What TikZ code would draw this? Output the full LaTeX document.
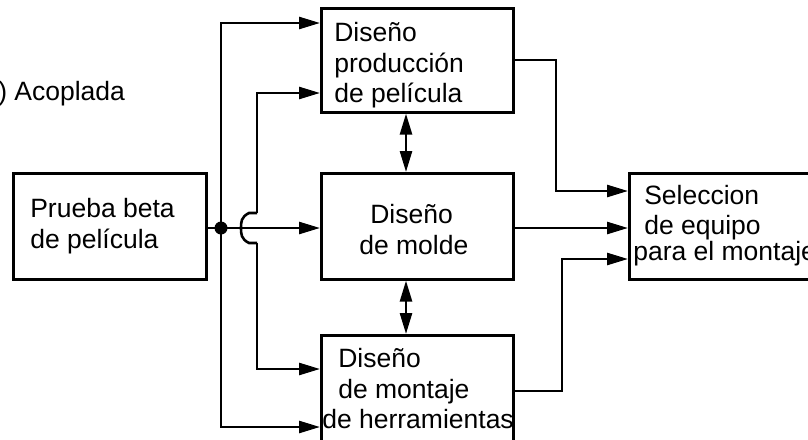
\documentclass[tikz,border=0pt]{standalone}
\usepackage{fontspec}
\setmainfont{Liberation Sans}
\usetikzlibrary{arrows.meta}
\begin{document}
\begin{tikzpicture}[x=1pt,y=-1pt,
  line width=2.6pt,
  box/.style={draw, rectangle, inner sep=0pt, anchor=north west},
  lbl/.style={anchor=base west, inner sep=0pt, font=\fontsize{26.5}{31}\selectfont},
  arr/.style={-{Triangle[length=21pt,width=12pt]}},
  darr/.style={{Triangle[length=21pt,width=12pt]}-{Triangle[length=21pt,width=12pt]}}]
\useasboundingbox (0,0) rectangle (808,439);
% boxes
\node[box, minimum width=193pt, minimum height=106pt] (prueba) at (12,172) {};
\node[box, minimum width=192pt, minimum height=104pt] (prod) at (320,7) {};
\node[box, minimum width=192pt, minimum height=106pt] (molde) at (320,172) {};
\node[box, minimum width=192pt, minimum height=110pt] (mont) at (320,334) {};
\node[box, minimum width=210pt, minimum height=106pt] (sel) at (628,172) {};
% texts
\node[lbl] (acop) at (-3,100) {) Acoplada};
\node[lbl] (t1a) at (29,217) {Prueba beta};
\node[lbl] (t1b) at (29,248) {de película};
\node[lbl] (t2a) at (333,41) {Diseño};
\node[lbl] (t2b) at (333,72) {producción};
\node[lbl] (t2c) at (333,102) {de película};
\node[lbl] (t3a) at (369,223) {Diseño};
\node[lbl] (t3b) at (358,254) {de molde};
\node[lbl] (t4a) at (337,367) {Diseño};
\node[lbl] (t4b) at (337,398) {de montaje};
\node[lbl] (t4c) at (321,428) {de herramientas};
\node[lbl] (t5a) at (643,204) {Seleccion};
\node[lbl] (t5b) at (643,234) {de equipo};
\node[lbl] (t5c) at (632,260) {para el montaje};
% junction
\coordinate (j) at (221,228);
\coordinate (jt) at (221,23);
\coordinate (jb) at (221,427);
\coordinate (k1) at (257,93);
\coordinate (k2) at (257,213);
\coordinate (k3) at (257,243);
\coordinate (k4) at (257,369);
\draw (prueba.east |- j) -- (j);
\draw[arr] (j) -- (molde.west |- j);
\draw[arr] (jb) -- (jt) -- (prod.west |- jt);
\draw[arr] (j) -- (jb) -- (mont.west |- jb);
\fill (j) circle (6.5pt);
% jumper line
\draw[arr] (k2) -- (k1) -- (prod.west |- k1);
\draw (k2) -- (249,213) .. controls (241,217) and (241,222) .. (241,228)
  .. controls (241,234) and (241,239) .. (249,243) -- (k3);
\draw[arr] (k3) -- (k4) -- (mont.west |- k4);
% double arrows
\draw[darr] (prod.south -| 406,0) -- (molde.north -| 406,0);
\draw[darr] (molde.south -| 406,0) -- (mont.north -| 406,0);
% to selection
\coordinate (s1) at (556,60);
\coordinate (s2) at (556,191);
\draw[arr] (prod.east |- s1) -- (s1) -- (s2) -- (sel.west |- s2);
\draw[arr] (molde.east |- j) -- (sel.west |- j);
\coordinate (s3) at (562,391);
\coordinate (s4) at (562,259);
\draw[arr] (mont.east |- s3) -- (s3) -- (s4) -- (sel.west |- s4);
\end{tikzpicture}
\end{document}
